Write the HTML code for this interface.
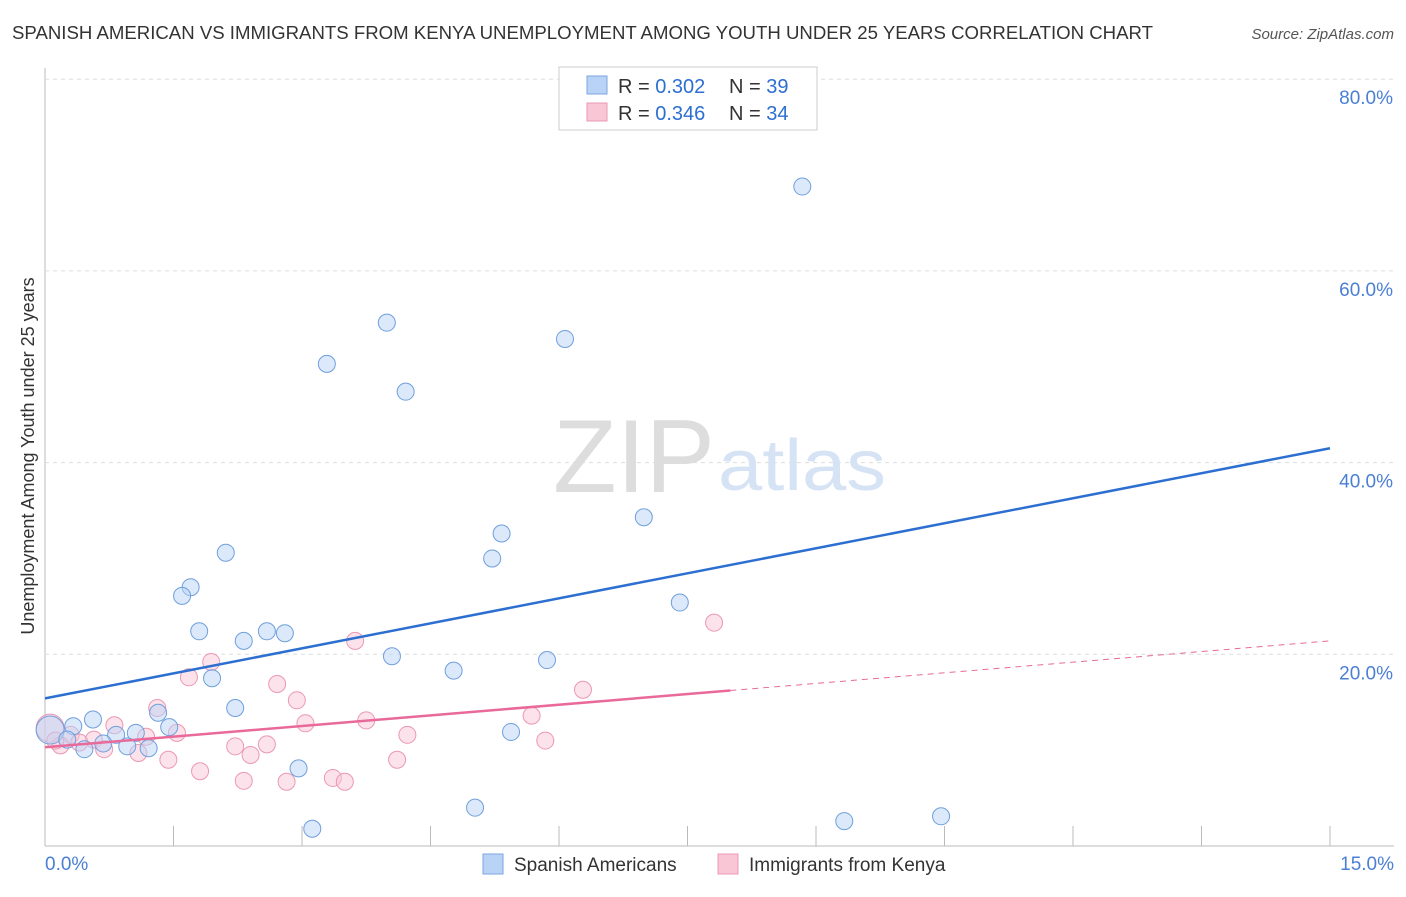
<!DOCTYPE html>
<html><head><meta charset="utf-8"><style>
body{margin:0;background:#fff;font-family:"Liberation Sans",sans-serif}
svg text{font-family:"Liberation Sans",sans-serif}
</style></head><body>
<svg width="1406" height="892">
<text x="12" y="39" font-size="18" fill="#333" textLength="1141" lengthAdjust="spacingAndGlyphs">SPANISH AMERICAN VS IMMIGRANTS FROM KENYA UNEMPLOYMENT AMONG YOUTH UNDER 25 YEARS CORRELATION CHART</text>
<text x="1394" y="39" font-size="15" fill="#555" font-style="italic" text-anchor="end">Source: ZipAtlas.com</text>
<g id="grid"></g>
<text x="553" y="492" font-size="104" fill="#ddd" font-family="Liberation Serif" textLength="162" lengthAdjust="spacingAndGlyphs">ZIP</text>
<text x="718" y="490" font-size="72" fill="#d5e3f5" textLength="168" lengthAdjust="spacingAndGlyphs">atlas</text>
<text transform="translate(34,456) rotate(-90)" font-size="18" fill="#333" text-anchor="middle">Unemployment Among Youth under 25 years</text>
<g id="marks"></g>
<g>
<rect x="559" y="67" width="258" height="63" fill="#fff" stroke="#ccc"/>
<rect x="587" y="76" width="20" height="18" fill="#b8d3f5" stroke="#7aa6e0"/>
<rect x="587" y="103" width="20" height="18" fill="#f9c6d6" stroke="#eb98b3"/>
<text x="618" y="93" font-size="20" fill="#333">R = <tspan fill="#2c6fd1">0.302</tspan></text>
<text x="729" y="93" font-size="20" fill="#333">N = <tspan fill="#2c6fd1">39</tspan></text>
<text x="618" y="120" font-size="20" fill="#333">R = <tspan fill="#2c6fd1">0.346</tspan></text>
<text x="729" y="120" font-size="20" fill="#333">N = <tspan fill="#2c6fd1">34</tspan></text>
</g>
<g>
<rect x="483" y="854" width="20" height="20" fill="#b8d3f5" stroke="#7aa6e0"/>
<text x="514" y="871" font-size="19" fill="#333">Spanish Americans</text>
<rect x="718" y="854" width="20" height="20" fill="#f9c6d6" stroke="#eb98b3"/>
<text x="749" y="871" font-size="19" fill="#333">Immigrants from Kenya</text>
</g>
</svg>
<script>
const xTicks=[0,1.5,3,4.5,6,7.5,9,10.5,12,13.5,15];
const yTicks=[20,40,60,80];
const blueX=[8.84,3.99,6.07,3.29,4.21,6.99,5.33,5.22,2.11,1.70,1.60,7.41,1.80,2.59,2.80,2.32,4.05,5.86,4.77,1.95,2.22,1.32,0.56,0.33,1.45,1.06,0.83,5.44,0.06,0.26,0.68,0.96,1.21,0.46,2.96,5.02,3.12,9.33,10.46];
const blueY=[68.8,54.6,52.9,50.3,47.4,34.3,32.6,30.0,30.6,27.0,26.1,25.4,22.4,22.4,22.2,21.4,19.8,19.4,18.3,17.5,14.4,13.9,13.2,12.5,12.4,11.8,11.6,11.9,12.1,11.1,10.7,10.4,10.2,10.1,8.1,4.0,1.8,2.6,3.1];
const pinkX=[7.81,3.62,1.94,1.68,2.71,6.28,2.94,1.31,3.04,3.75,5.68,0.81,1.54,0.06,0.30,4.23,0.57,1.18,0.18,2.59,2.22,5.84,0.69,1.09,2.40,1.44,4.11,1.81,3.36,3.50,2.32,2.82,0.12,0.40];
const pinkY=[23.3,21.4,19.2,17.6,16.9,16.3,15.2,14.4,12.8,13.1,13.6,12.6,11.8,12.3,11.6,11.6,11.1,11.4,10.5,10.6,10.4,11.0,10.1,9.7,9.5,9.0,9.0,7.8,7.1,6.7,6.8,6.7,11.0,10.8];
const blueTrend=[15.4,41.5];
const pinkTrend=[10.3,21.4];
const pinkSolidEnd=8.0;
const X=v=>45+v*(1285/15), Y=v=>846-v*9.585;
const NS='http://www.w3.org/2000/svg';
function mk(p,t,a){const e=document.createElementNS(NS,t);for(const k in a)e.setAttribute(k,a[k]);p.appendChild(e);return e;}
const g=document.getElementById('grid'), m=document.getElementById('marks');
let ax=mk(g,'line',{x1:45,y1:846,x2:1394,y2:846,stroke:'#bbb'});


let ay=mk(g,'line',{x1:45,y1:68,x2:45,y2:846,stroke:'#bbb'});


yTicks.forEach(v=>{
 const l=mk(g,'line',{x1:45,y1:Y(v),x2:1394,y2:Y(v),stroke:'#ddd','stroke-dasharray':'4,4'});
 
 
 const t=mk(g,'text',{x:1393,y:Y(v)+25,'font-size':19,fill:'#4a7fd4','text-anchor':'end'});t.textContent=v.toFixed(1)+'%';
 
 
});
xTicks.forEach(v=>{
 const l=mk(g,'line',{x1:X(v),y1:826,x2:X(v),y2:846,stroke:'#bbb'});
 
 
});
[[0,'start',45],[15,'end',1394]].forEach(([v,a,x])=>{
 const t=mk(g,'text',{x:x,y:870,'font-size':19,fill:'#4a7fd4','text-anchor':a});t.textContent=v.toFixed(1)+'%';
 
 
});
function pts(xs,ys,fill,stroke,name){xs.forEach((x,i)=>{
 const big=x<0.1;
 const c=mk(m,'circle',{cx:X(x),cy:Y(ys[i]),r:big?14:8.5,fill:fill,'fill-opacity':0.5,stroke:stroke,'stroke-width':1});
 
 
});}
pts(pinkX,pinkY,'#f9c6d6','#eb98b3','kenya-point');
pts(blueX,blueY,'#b8d3f5','#6f9fdc','spanish-american-point');
let bl=mk(m,'line',{x1:X(0),y1:Y(blueTrend[0]),x2:X(15),y2:Y(blueTrend[1]),stroke:'#2c6fd1','stroke-width':2.5});


const py=v=>pinkTrend[0]+(pinkTrend[1]-pinkTrend[0])*v/15;
let pl=mk(m,'line',{x1:X(0),y1:Y(pinkTrend[0]),x2:X(pinkSolidEnd),y2:Y(py(pinkSolidEnd)),stroke:'#e8699a','stroke-width':2.5});


let pd=mk(m,'line',{x1:X(pinkSolidEnd),y1:Y(py(pinkSolidEnd)),x2:X(15),y2:Y(pinkTrend[1]),stroke:'#e8699a','stroke-width':1,'stroke-dasharray':'6,5'});


</script>
</body></html>
